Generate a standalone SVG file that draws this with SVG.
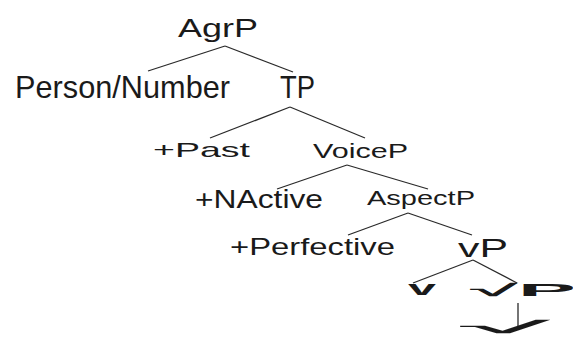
<svg xmlns="http://www.w3.org/2000/svg" width="573" height="340" viewBox="0 0 573 340">
<style>
text{font-family:"Liberation Sans",Arial,sans-serif;fill:#1a1a1a;}
.e line{stroke:#2a2a2a;stroke-width:1.3;}
.b{font-weight:bold;}
</style>
<rect width="573" height="340" fill="#ffffff"/>
<g class="e" id="connectors">
<line x1="225" y1="46" x2="148" y2="71"/>
<line x1="225" y1="46" x2="293" y2="72"/>
<line x1="290" y1="107" x2="210" y2="138"/>
<line x1="290" y1="107" x2="365" y2="138"/>
<line x1="347" y1="165" x2="277" y2="189"/>
<line x1="347" y1="165" x2="428" y2="189"/>
<line x1="408" y1="213" x2="348" y2="235"/>
<line x1="408" y1="213" x2="472" y2="235"/>
<line x1="473" y1="260" x2="413" y2="283"/>
<line x1="473" y1="260" x2="517" y2="283"/>
<line x1="518" y1="303" x2="518" y2="326"/>
</g>
<g id="agrp"><text x="178" y="37" font-size="26" textLength="80" lengthAdjust="spacingAndGlyphs">AgrP</text></g>
<g id="person-number"><text x="15" y="98" font-size="32" textLength="215" lengthAdjust="spacingAndGlyphs">Person/Number</text></g>
<g id="tp"><text x="280" y="98" font-size="32" textLength="35" lengthAdjust="spacingAndGlyphs">TP</text></g>
<g id="past"><text x="153" y="157" font-size="21" textLength="97" lengthAdjust="spacingAndGlyphs">+Past</text></g>
<g id="voicep"><text x="313" y="158" font-size="21" textLength="95" lengthAdjust="spacingAndGlyphs">VoiceP</text></g>
<g id="nactive"><text x="195" y="208" font-size="25" textLength="128" lengthAdjust="spacingAndGlyphs">+NActive</text></g>
<g id="aspectp"><text x="367" y="205" font-size="21" textLength="108" lengthAdjust="spacingAndGlyphs">AspectP</text></g>
<g id="perfective"><text x="230" y="255" font-size="24" textLength="165" lengthAdjust="spacingAndGlyphs">+Perfective</text></g>
<g id="vp"><text x="458" y="257" font-size="25" textLength="50" lengthAdjust="spacingAndGlyphs">vP</text></g>
<g id="v"><text class="b" transform="translate(408,295) scale(1,0.5)" font-size="40" textLength="28" lengthAdjust="spacingAndGlyphs">v</text></g>
<g id="rootp"><text class="b" transform="translate(470,296) scale(1,0.42)" font-size="40" textLength="106" lengthAdjust="spacingAndGlyphs">√P</text></g>
<g id="root"><text class="b" transform="translate(460,333) scale(1,0.42)" font-size="40" textLength="90" lengthAdjust="spacingAndGlyphs">√</text></g>
</svg>
